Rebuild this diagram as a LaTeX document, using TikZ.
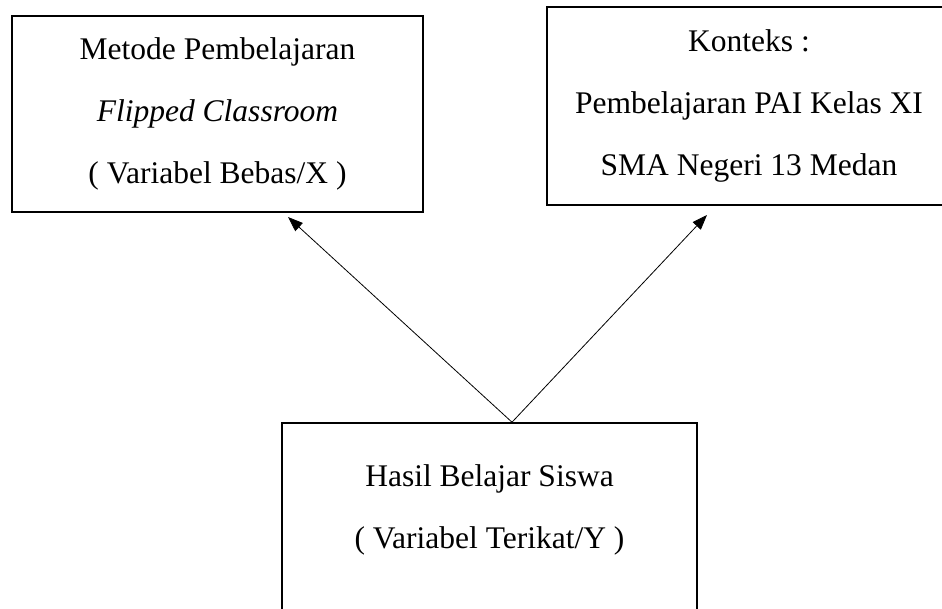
\documentclass[tikz,border=0pt]{standalone}
\usepackage{fontspec}
\setmainfont{Liberation Serif}
\usetikzlibrary{positioning, arrows.meta}

\begin{document}
\begin{tikzpicture}[
        x=1pt, y=-1pt,
        every node/.style={rectangle, draw, line width=1.6pt, align=center,
            font=\fontsize{31.5}{62}\selectfont},
        link/.style={draw, line width=0.8pt, -{Triangle[length=15pt, width=11pt]}}
    ]

    \useasboundingbox (0,0) rectangle (942,609);
    \clip (0,0) rectangle (942,609);

    % Top boxes
    \node[minimum width=411pt, minimum height=196pt] (metode) at (217.5,114)
        {Metode Pembelajaran\\\textit{Flipped Classroom}\\( Variabel Bebas/X )};
    \node[minimum width=404pt, minimum height=198pt] (konteks) at (749,106)
        {Konteks :\\Pembelajaran PAI Kelas XI\\SMA Negeri 13 Medan};

    % Bottom box
    \node[minimum width=415pt, minimum height=230pt] (hasil) at (489.5,538)
        {Hasil Belajar Siswa\\( Variabel Terikat/Y )\\ };

    % Arrow ends
    \coordinate (apex) at ([xshift=22.5pt]hasil.north);
    \coordinate (tipm) at (288,217);
    \coordinate (tipk) at (707,215);

    % Edges
    \draw[link] (apex) -- (tipm);
    \draw[link] (apex) -- (tipk);

\end{tikzpicture}
\end{document}
